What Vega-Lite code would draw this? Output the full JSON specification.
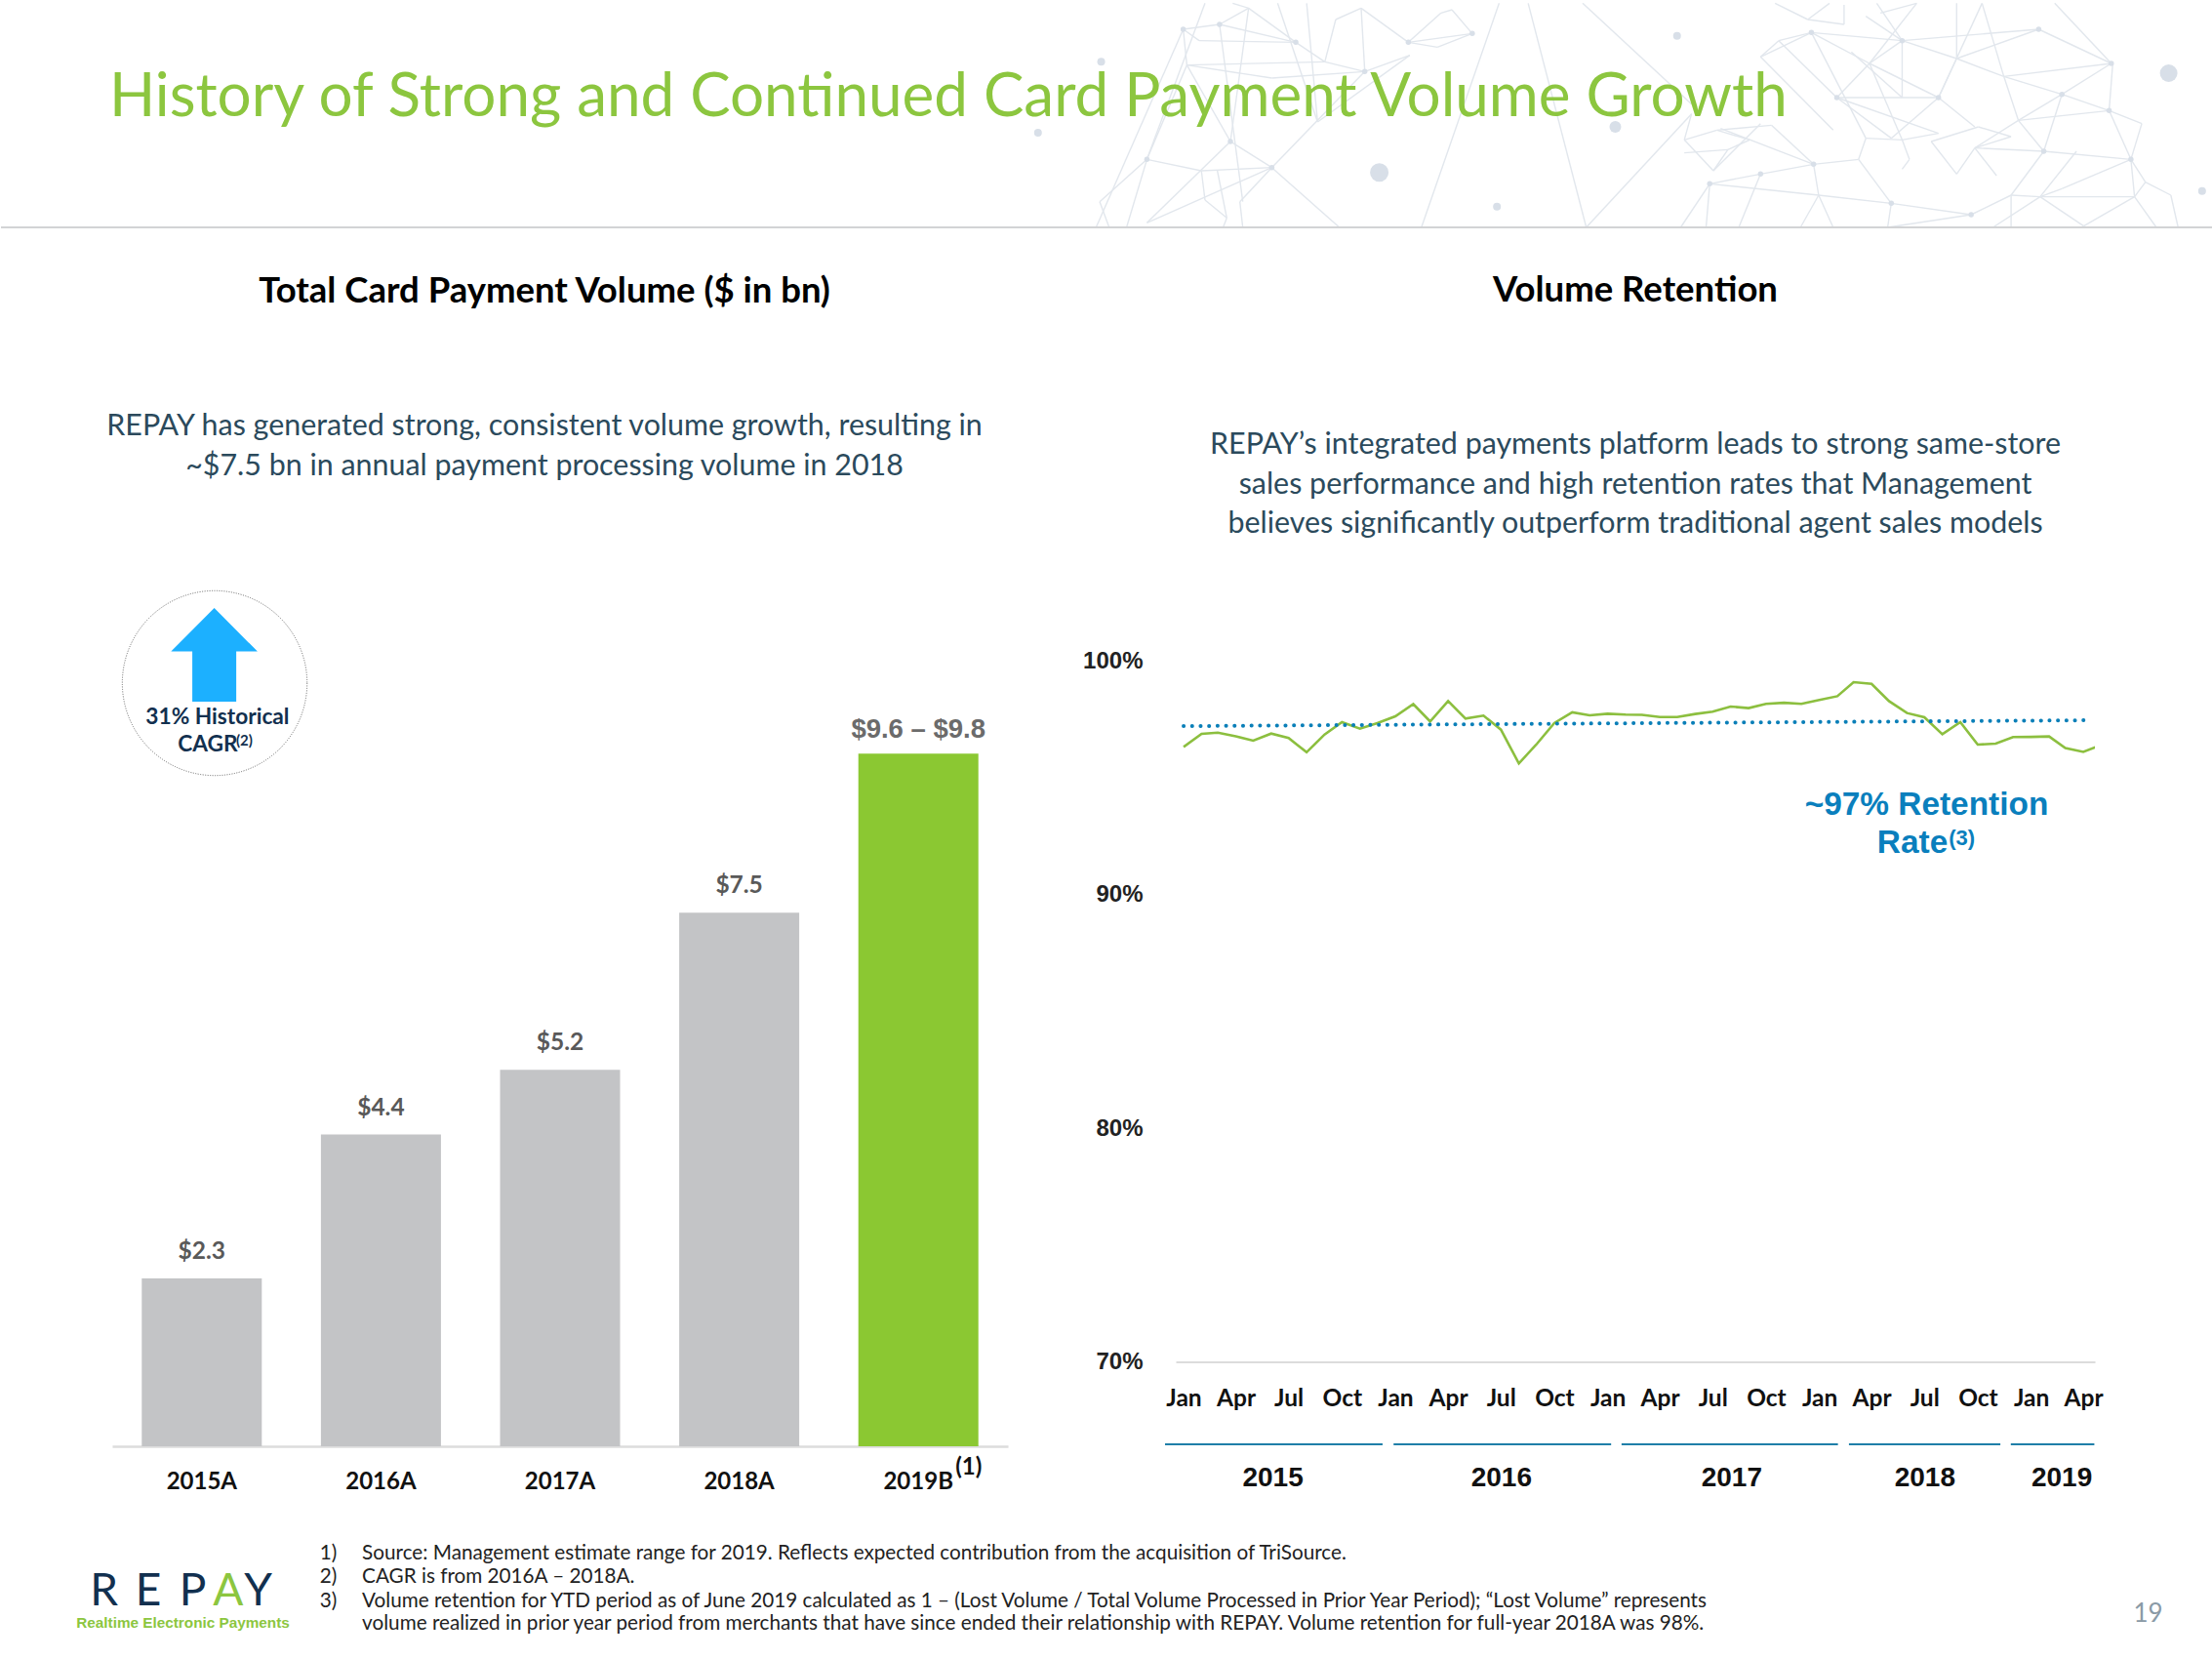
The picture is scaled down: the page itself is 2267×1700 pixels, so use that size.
{"$schema":"https://vega.github.io/schema/vega-lite/v6.json","padding":0,"background":"white","bounds":"flush","spacing":444,"config":{"view":{"stroke":null}},
"vconcat":[
{"width":2267,"height":233,
"layer":[
{"data":{"values":[
{"a":150,"b":90,"c":200,"d":75},{"a":200,"b":75,"c":240,"d":25},{"a":240,"b":25,"c":218,"d":10},{"a":150,"b":90,"c":172,"d":125},{"a":172,"b":125,"c":305,"d":130},{"a":200,"b":75,"c":305,"d":130},{"a":240,"b":25,"c":305,"d":130},{"a":150,"b":90,"c":155,"d":200},{"a":305,"b":130,"c":345,"d":190},{"a":345,"b":190,"c":400,"d":220},{"a":360,"b":60,"c":395,"d":25},{"a":360,"b":60,"c":345,"d":190},{"a":395,"b":25,"c":460,"d":130},{"a":460,"b":130,"c":548,"d":103},{"a":548,"b":103,"c":520,"d":30},{"a":520,"b":30,"c":505,"d":40},{"a":505,"b":40,"c":460,"d":130},{"a":460,"b":130,"c":500,"d":145},{"a":500,"b":145,"c":548,"d":103},{"a":400,"b":220,"c":462,"d":170},{"a":395,"b":25,"c":400,"d":220},{"a":320,"b":10,"c":335,"d":375},{"a":400,"b":220,"c":272,"d":515},{"a":462,"b":170,"c":335,"d":375},{"a":155,"b":200,"c":215,"d":435},{"a":215,"b":435,"c":272,"d":515},{"a":100,"b":490,"c":175,"d":525},{"a":175,"b":525,"c":272,"d":515},{"a":100,"b":490,"c":155,"d":200},{"a":100,"b":490,"c":35,"d":620},{"a":35,"b":620,"c":48,"d":699},{"a":100,"b":490,"c":72,"d":699},{"a":100,"b":685,"c":272,"d":515},{"a":272,"b":515,"c":365,"d":699},{"a":215,"b":435,"c":100,"d":685},{"a":175,"b":525,"c":180,"d":615},{"a":180,"b":615,"c":210,"d":670},{"a":272,"b":515,"c":228,"d":620},{"a":228,"b":620,"c":232,"d":699},{"a":210,"b":670,"c":205,"d":699},{"a":197,"b":525,"c":210,"d":670},{"a":150,"b":90,"c":30,"d":699},{"a":200,"b":75,"c":232,"d":620},{"a":280,"b":10,"c":335,"d":375},{"a":155,"b":200,"c":345,"d":190},{"a":155,"b":200,"c":272,"d":240},{"a":272,"b":240,"c":400,"d":220},{"a":180,"b":10,"c":100,"d":490},{"a":240,"b":25,"c":215,"d":435},
{"a":585,"b":10,"c":478,"d":699},{"a":625,"b":10,"c":705,"d":699},{"a":700,"b":10,"c":850,"d":320},{"a":850,"b":350,"c":705,"d":699},
{"a":1015,"b":100,"c":1140,"d":125},{"a":1140,"b":125,"c":1328,"d":90},{"a":1328,"b":90,"c":1428,"d":195},{"a":1428,"b":195,"c":1280,"d":235},{"a":1280,"b":235,"c":1215,"d":180},{"a":1215,"b":180,"c":1328,"d":90},{"a":1140,"b":125,"c":1215,"d":180},{"a":1140,"b":125,"c":1095,"d":195},{"a":1095,"b":195,"c":1050,"d":300},{"a":1050,"b":300,"c":1190,"d":300},{"a":1190,"b":300,"c":1095,"d":195},{"a":1015,"b":100,"c":945,"d":175},{"a":945,"b":175,"c":970,"d":125},{"a":970,"b":125,"c":1015,"d":100},{"a":1015,"b":100,"c":1095,"d":195},{"a":1015,"b":100,"c":1090,"d":425},{"a":1160,"b":10,"c":1095,"d":195},{"a":1250,"b":10,"c":1190,"d":300},{"a":1350,"b":10,"c":1428,"d":195},{"a":1428,"b":195,"c":1360,"d":290},{"a":1360,"b":290,"c":1280,"d":235},{"a":1360,"b":290,"c":1425,"d":340},{"a":1425,"b":340,"c":1470,"d":380},{"a":1470,"b":380,"c":1455,"d":490},{"a":1425,"b":340,"c":1300,"d":370},{"a":1300,"b":370,"c":1360,"d":290},{"a":1300,"b":370,"c":1335,"d":465},{"a":1335,"b":465,"c":1455,"d":490},{"a":1240,"b":455,"c":1335,"d":465},{"a":1240,"b":455,"c":1290,"d":420},{"a":1180,"b":435,"c":1245,"d":390},{"a":1245,"b":390,"c":1290,"d":420},{"a":1140,"b":430,"c":1190,"d":410},{"a":1090,"b":425,"c":1140,"d":430},{"a":1090,"b":425,"c":1080,"d":490},{"a":1080,"b":490,"c":1018,"d":505},{"a":1018,"b":505,"c":945,"d":535},{"a":945,"b":535,"c":875,"d":565},{"a":875,"b":565,"c":1025,"d":600},{"a":1025,"b":600,"c":1125,"d":625},{"a":1125,"b":625,"c":1235,"d":660},{"a":1235,"b":660,"c":1290,"d":600},{"a":1290,"b":600,"c":1330,"d":605},{"a":1330,"b":605,"c":1460,"d":605},{"a":1460,"b":605,"c":1475,"d":560},{"a":1475,"b":560,"c":1455,"d":490},{"a":1330,"b":605,"c":1360,"d":580},{"a":1360,"b":580,"c":1455,"d":490},{"a":1018,"b":505,"c":960,"d":385},{"a":960,"b":385,"c":885,"d":400},{"a":885,"b":400,"c":840,"d":430},{"a":840,"b":430,"c":880,"d":525},{"a":880,"b":525,"c":900,"d":460},{"a":900,"b":460,"c":930,"d":430},{"a":930,"b":430,"c":885,"d":400},{"a":840,"b":470,"c":900,"d":460},{"a":850,"b":350,"c":840,"d":430},{"a":880,"b":525,"c":945,"d":380},{"a":1125,"b":625,"c":1120,"d":699},{"a":1235,"b":660,"c":1120,"d":699},{"a":1025,"b":600,"c":1000,"d":699},{"a":945,"b":535,"c":915,"d":699},{"a":875,"b":565,"c":835,"d":699},{"a":875,"b":565,"c":870,"d":699},{"a":1140,"b":430,"c":1150,"d":490},{"a":1150,"b":490,"c":1140,"d":520},{"a":1240,"b":455,"c":1270,"d":540},{"a":1180,"b":435,"c":1215,"d":535},{"a":1215,"b":535,"c":1240,"d":455},{"a":1335,"b":465,"c":1290,"d":600},{"a":1460,"b":605,"c":1490,"d":699},{"a":1510,"b":600,"c":1520,"d":699},{"a":1475,"b":560,"c":1510,"d":600},{"a":1330,"b":605,"c":1390,"d":695},{"a":1330,"b":605,"c":1265,"d":699},{"a":1390,"b":695,"c":1460,"d":605},{"a":1425,"b":340,"c":1430,"d":195},{"a":1050,"b":300,"c":1125,"d":425},{"a":1190,"b":300,"c":1125,"d":425},{"a":1190,"b":300,"c":1240,"d":390},{"a":965,"b":10,"c":1010,"d":60},{"a":1010,"b":60,"c":1060,"d":75},{"a":1060,"b":75,"c":1060,"d":15},{"a":1040,"b":10,"c":1010,"d":60},{"a":1090,"b":50,"c":1140,"d":125},{"a":1110,"b":40,"c":1160,"d":10},{"a":1105,"b":10,"c":1140,"d":125},{"a":1215,"b":10,"c":1215,"d":180},{"a":1070,"b":160,"c":1140,"d":300},{"a":970,"b":125,"c":1050,"d":300},{"a":945,"b":175,"c":1045,"d":400},{"a":1018,"b":505,"c":890,"d":395},{"a":1215,"b":180,"c":1190,"d":300},{"a":1280,"b":235,"c":1300,"d":370},{"a":1250,"b":10,"c":1280,"d":235},{"a":1140,"b":125,"c":1140,"d":300},{"a":1095,"b":195,"c":1140,"d":430},{"a":1050,"b":300,"c":1190,"d":410},{"a":1300,"b":370,"c":1240,"d":455},{"a":1380,"b":465,"c":1330,"d":605},{"a":1360,"b":290,"c":1335,"d":465},{"a":1425,"b":340,"c":1455,"d":490},{"a":1455,"b":490,"c":1460,"d":605},{"a":1290,"b":600,"c":1290,"d":699},{"a":1025,"b":600,"c":1045,"d":699},{"a":1080,"b":490,"c":1125,"d":625},{"a":1018,"b":505,"c":1025,"d":600}
]},
"mark":{"type":"rule","color":"#e2e7ed","strokeWidth":1.4},
"encoding":{"x":{"field":"a","type":"quantitative","scale":{"domain":[-1478,1568],"nice":false,"zero":false},"axis":null},"y":{"field":"b","type":"quantitative","scale":{"domain":[699,0],"nice":false,"zero":false},"axis":null},"x2":{"field":"c"},"y2":{"field":"d"}}},
{"data":{"values":[{"x":420,"y":530,"s":361},{"x":745,"y":390,"s":144},{"x":830,"y":110,"s":64},{"x":582,"y":635,"s":64},{"x":1507,"y":225,"s":324},{"x":1553,"y":587,"s":64},{"x":37,"y":190,"s":64},{"x":-50,"y":408,"s":64},{"x":150,"y":90,"s":30},{"x":200,"y":75,"s":30},{"x":305,"y":130,"s":30},{"x":460,"y":130,"s":30},{"x":548,"y":103,"s":30},{"x":400,"y":220,"s":30},{"x":272,"y":515,"s":30},{"x":100,"y":490,"s":30},{"x":215,"y":435,"s":30},{"x":1015,"y":100,"s":30},{"x":1140,"y":125,"s":30},{"x":1328,"y":90,"s":30},{"x":1428,"y":195,"s":30},{"x":1360,"y":290,"s":30},{"x":1425,"y":340,"s":30},{"x":1018,"y":505,"s":30},{"x":875,"y":565,"s":30},{"x":945,"y":535,"s":30},{"x":1125,"y":625,"s":30},{"x":1235,"y":660,"s":30},{"x":1455,"y":490,"s":30},{"x":1335,"y":465,"s":30},{"x":1050,"y":300,"s":30},{"x":1190,"y":300,"s":30}]},
"mark":{"type":"circle","color":"#d8dfe8","opacity":1},
"encoding":{"x":{"field":"x","type":"quantitative"},"y":{"field":"y","type":"quantitative"},"size":{"field":"s","type":"quantitative","scale":null,"legend":null}}},
{"data":{"values":[{"x":-1478,"x2":1568,"y":699}]},"mark":{"type":"rule","color":"#d2d3d5","strokeWidth":2},"encoding":{"x":{"field":"x","type":"quantitative"},"x2":{"field":"x2"},"y":{"field":"y","type":"quantitative"}}},
{"data":{"values":[{"x":-1329,"y":300,"t":"History of Strong and Continued Card Payment Volume Growth"}]},"mark":{"type":"text","font":"Lato","fontSize":62,"color":"#8cc63f","align":"left","baseline":"middle"},"encoding":{"x":{"field":"x","type":"quantitative"},"y":{"field":"y","type":"quantitative"},"text":{"field":"t"}}}
]},
{"spacing":172,"bounds":"flush","hconcat":[
{"width":1032,"height":805,
"title":{"text":"Total Card Payment Volume ($ in bn)","subtitle":["REPAY has generated strong, consistent volume growth, resulting in","~$7.5 bn in annual payment processing volume in 2018"],"font":"Lato","fontWeight":"bold","fontSize":36.5,"color":"#000000","subtitleFont":"Lato","subtitleFontSize":30.4,"subtitleColor":"#2b4a5c","subtitleLineHeight":40.5,"subtitlePadding":105,"anchor":"middle","frame":"group","offset":110,"dx":41},
"resolve":{"scale":{"x":"independent","y":"independent"}},
"layer":[
{"data":{"values":[{"year":"2015A","value":2.35,"label":"$2.3","kind":"Actual"},{"year":"2016A","value":4.365,"label":"$4.4","kind":"Actual"},{"year":"2017A","value":5.27,"label":"$5.2","kind":"Actual"},{"year":"2018A","value":7.47,"label":"$7.5","kind":"Actual"},{"year":"2019B","value":9.7,"label":"$9.6 – $9.8","kind":"Budget"}]},
"encoding":{"x":{"field":"year","type":"nominal","sort":null,"scale":{"type":"band","range":[114,1032],"paddingInner":0.33,"paddingOuter":0.165},"axis":{"title":null,"labelAngle":0,"labelFont":"Lato","labelFontWeight":"bold","labelFontSize":24,"labelColor":"#111111","labelPadding":24,"ticks":false,"domainColor":"#dcdcdc","domainWidth":2.5}},"y":{"field":"value","type":"quantitative","scale":{"domain":[0,11],"nice":false},"axis":null}},
"layer":[
{"mark":{"type":"bar"},"encoding":{"color":{"field":"kind","type":"nominal","scale":{"domain":["Actual","Budget"],"range":["#c3c4c6","#8bc832"]},"legend":null}}},
{"transform":[{"filter":"datum.kind=='Actual'"}],"mark":{"type":"text","font":"Lato","fontWeight":"bold","fontSize":24.5,"color":"#595959","baseline":"middle","dy":-27},"encoding":{"text":{"field":"label"}}},
{"transform":[{"filter":"datum.kind=='Budget'"}],"mark":{"type":"text","font":"Liberation Sans","fontWeight":"bold","fontSize":27.5,"color":"#6b6b6b","baseline":"middle","dy":-24},"encoding":{"text":{"field":"label"}}}
]},
{"encoding":{"x":{"field":"x","type":"quantitative","scale":{"domain":[0,713.8],"nice":false,"zero":false},"axis":null},"y":{"field":"y","type":"quantitative","scale":{"domain":[1025,468.3],"nice":false,"zero":false},"axis":null}},
"layer":[
{"data":{"values":[{"x":151.5,"y":484.2}]},"mark":{"type":"point","shape":"circle","filled":false,"size":35872,"stroke":"#666666","strokeWidth":1,"strokeDash":[1,1.5],"opacity":1}},
{"data":{"values":[{"x":151.2,"y":464.1}]},"mark":{"type":"point","shape":"M0,-1 L0.923,-0.069 L0.469,-0.069 L0.469,1 L-0.469,1 L-0.469,-0.069 L-0.923,-0.069 Z","filled":true,"size":9216,"color":"#1cb0ff","opacity":1}},
{"data":{"values":[{"x":153.5,"y":508.4,"t":"31% Historical"},{"x":146.6,"y":527.7,"t":"CAGR"}]},"mark":{"type":"text","font":"Lato","fontWeight":"bold","fontSize":22.7,"color":"#12304f","baseline":"middle"},"encoding":{"text":{"field":"t"}}},
{"data":{"values":[{"x":172.5,"y":525,"t":"(2)"}]},"mark":{"type":"text","font":"Lato","fontWeight":"bold","fontSize":15,"color":"#12304f","baseline":"middle"},"encoding":{"text":{"field":"t"}}},
{"data":{"values":[{"x":686,"y":1040,"t":"(1)"}]},"mark":{"type":"text","font":"Lato","fontWeight":"bold","fontSize":24,"color":"#111111","baseline":"middle"},"encoding":{"text":{"field":"t"}}},
{"data":{"values":[{"x":1365,"y":570.5,"t":"~97% Retention"},{"x":1355,"y":597.5,"t":"Rate"}]},"mark":{"type":"text","font":"Liberation Sans","fontWeight":"bold","fontSize":33.4,"color":"#0a7fbd","baseline":"middle"},"encoding":{"text":{"field":"t"}}},
{"data":{"values":[{"x":1390,"y":594.5,"t":"(3)"}]},"mark":{"type":"text","font":"Liberation Sans","fontWeight":"bold","fontSize":22,"color":"#0a7fbd","baseline":"middle"},"encoding":{"text":{"field":"t"}}},
{"data":{"values":[{"x":226,"y":1101,"t":"1)"},{"x":226,"y":1118,"t":"2)"},{"x":226,"y":1135,"t":"3)"},{"x":256,"y":1101,"t":"Source: Management estimate range for 2019. Reflects expected contribution from the acquisition of TriSource."},{"x":256,"y":1118,"t":"CAGR is from 2016A – 2018A."},{"x":256,"y":1135,"t":"Volume retention for YTD period as of June 2019 calculated as 1 – (Lost Volume / Total Volume Processed in Prior Year Period); “Lost Volume” represents"},{"x":256,"y":1151,"t":"volume realized in prior year period from merchants that have since ended their relationship with REPAY. Volume retention for full-year 2018A was 98%."}]},"mark":{"type":"text","font":"Lato","fontSize":20.7,"color":"#222222","align":"left","baseline":"middle"},"encoding":{"text":{"field":"t"}}},
{"data":{"values":[{"x":73,"y":1128,"t":"R"},{"x":104.5,"y":1128,"t":"E"},{"x":136,"y":1128,"t":"P"},{"x":182.3,"y":1128,"t":"Y"}]},"mark":{"type":"text","font":"Lato","fontWeight":400,"fontSize":46,"color":"#12304f","baseline":"middle"},"encoding":{"text":{"field":"t"}}},
{"data":{"values":[{"x":161,"y":1128,"t":"A"}]},"mark":{"type":"text","font":"Lato","fontWeight":400,"fontSize":46,"color":"#8cc63f","baseline":"middle"},"encoding":{"text":{"field":"t"}}},
{"data":{"values":[{"x":129,"y":1150,"t":"Realtime Electronic Payments"}]},"mark":{"type":"text","font":"Liberation Sans","fontWeight":"bold","fontSize":15.3,"color":"#8cc63f","baseline":"middle"},"encoding":{"text":{"field":"t"}}},
{"data":{"values":[{"x":1522,"y":1144,"t":"19"}]},"mark":{"type":"text","font":"Lato","fontSize":26,"color":"#8a9aa6","baseline":"middle"},"encoding":{"text":{"field":"t"}}}
]}
]},
{"width":942,"height":718.5,
"title":{"text":"Volume Retention","subtitle":["REPAY’s integrated payments platform leads to strong same-store","sales performance and high retention rates that Management","believes significantly outperform traditional agent sales models"],"font":"Lato","fontWeight":"bold","fontSize":36.5,"color":"#000000","subtitleFont":"Lato","subtitleFontSize":30.4,"subtitleColor":"#2b4a5c","subtitleLineHeight":40.5,"subtitlePadding":125,"anchor":"middle","frame":"group","offset":112.5},
"layer":[
{"data":{"values":[{"date":"2015-01-01","rate":96.31},{"date":"2015-02-01","rate":96.87},{"date":"2015-03-01","rate":96.92},{"date":"2015-04-01","rate":96.76},{"date":"2015-05-01","rate":96.58},{"date":"2015-06-01","rate":96.88},{"date":"2015-07-01","rate":96.69},{"date":"2015-08-01","rate":96.08},{"date":"2015-09-01","rate":96.84},{"date":"2015-10-01","rate":97.37},{"date":"2015-11-01","rate":97.09},{"date":"2015-12-01","rate":97.33},{"date":"2016-01-01","rate":97.62},{"date":"2016-02-01","rate":98.14},{"date":"2016-03-01","rate":97.4},{"date":"2016-04-01","rate":98.27},{"date":"2016-05-01","rate":97.52},{"date":"2016-06-01","rate":97.65},{"date":"2016-07-01","rate":97.05},{"date":"2016-08-01","rate":95.6},{"date":"2016-09-01","rate":96.44},{"date":"2016-10-01","rate":97.33},{"date":"2016-11-01","rate":97.79},{"date":"2016-12-01","rate":97.66},{"date":"2017-01-01","rate":97.73},{"date":"2017-02-01","rate":97.69},{"date":"2017-03-01","rate":97.68},{"date":"2017-04-01","rate":97.59},{"date":"2017-05-01","rate":97.59},{"date":"2017-06-01","rate":97.72},{"date":"2017-07-01","rate":97.82},{"date":"2017-08-01","rate":98.04},{"date":"2017-09-01","rate":97.97},{"date":"2017-10-01","rate":98.15},{"date":"2017-11-01","rate":98.2},{"date":"2017-12-01","rate":98.15},{"date":"2018-01-01","rate":98.32},{"date":"2018-02-01","rate":98.48},{"date":"2018-03-01","rate":99.08},{"date":"2018-04-01","rate":99.01},{"date":"2018-05-01","rate":98.27},{"date":"2018-06-01","rate":97.76},{"date":"2018-07-01","rate":97.58},{"date":"2018-08-01","rate":96.85},{"date":"2018-09-01","rate":97.37},{"date":"2018-10-01","rate":96.41},{"date":"2018-11-01","rate":96.45},{"date":"2018-12-01","rate":96.73},{"date":"2019-01-01","rate":96.74},{"date":"2019-02-01","rate":96.76},{"date":"2019-03-01","rate":96.26},{"date":"2019-04-01","rate":96.1},{"date":"2019-05-01","rate":96.38}]},
"mark":{"type":"line","color":"#8cbf3f","strokeWidth":2.6,"clip":true,"interpolate":"linear"},
"encoding":{"x":{"field":"date","type":"temporal","scale":{"type":"utc","domain":["2014-12-18T12:00:00Z","2019-04-21T00:00:00Z"],"nice":false},"axis":{"title":null,"format":"%b","tickCount":{"interval":"month","step":3},"grid":false,"ticks":false,"labelFont":"Lato","labelFontWeight":"bold","labelFontSize":24.5,"labelColor":"#111111","labelPadding":26,"labelOverlap":false,"labelFlush":false,"domainColor":"#dcdcdc","domainWidth":2}},"y":{"field":"rate","type":"quantitative","scale":{"domain":[70,100],"nice":false,"zero":false},"axis":{"title":null,"values":[70,80,90,100],"labelExpr":"datum.value+'%'","grid":false,"ticks":false,"domain":false,"labelFont":"Liberation Sans","labelFontWeight":"bold","labelFontSize":24,"labelColor":"#222222","labelPadding":34}}}},
{"data":{"values":[{"date":"2015-01-01","trend":97.2},{"date":"2019-04-10","trend":97.45}]},"mark":{"type":"line","color":"#0a7fb8","strokeWidth":4,"strokeDash":[0.1,8.6],"strokeCap":"round"},"encoding":{"x":{"field":"date","type":"temporal"},"y":{"field":"trend","type":"quantitative"}}},
{"data":{"values":[{"start":"2014-11-30","end":"2015-12-10","mid":"2015-06-04","year":"2015","ruleY":66.47,"labelY":65.03},{"start":"2015-12-29","end":"2017-01-07","mid":"2016-07-02","year":"2016","ruleY":66.47,"labelY":65.03},{"start":"2017-01-25","end":"2018-02-02","mid":"2017-08-03","year":"2017","ruleY":66.47,"labelY":65.03},{"start":"2018-02-21","end":"2018-11-09","mid":"2018-07-02","year":"2018","ruleY":66.47,"labelY":65.03},{"start":"2018-11-27","end":"2019-04-20","mid":"2019-02-23","year":"2019","ruleY":66.47,"labelY":65.03}]},
"layer":[
{"mark":{"type":"rule","color":"#1f7fa8","strokeWidth":2},"encoding":{"x":{"field":"start","type":"temporal"},"x2":{"field":"end"},"y":{"field":"ruleY","type":"quantitative"}}},
{"mark":{"type":"text","font":"Liberation Sans","fontWeight":"bold","fontSize":28,"color":"#111111","baseline":"middle"},"encoding":{"x":{"field":"mid","type":"temporal"},"y":{"field":"labelY","type":"quantitative"},"text":{"field":"year"}}}
]}
]}
]}
]}
